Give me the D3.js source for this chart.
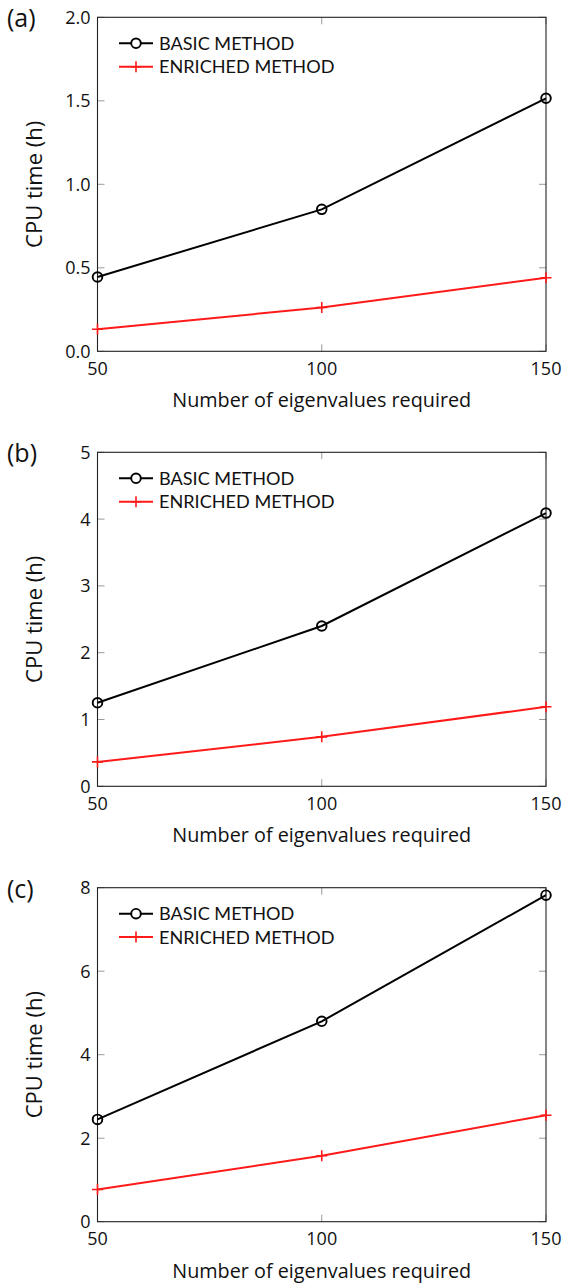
<!DOCTYPE html>
<html>
<head>
<meta charset="utf-8">
<script src="https://cdn.jsdelivr.net/npm/d3@7"></script>
<style>
  body { margin: 0; background: #fff; }
  text { font-family: "Open Sans", sans-serif; fill: #111; }
  text.legend { font-family: Lato, "Open Sans", sans-serif; }
</style>
</head>
<body>
<div class="chart"></div>
<script>
// Data
var eigenCounts = [50, 100, 150];
var panelNames = ["(a)", "(b)", "(c)"];
var seriesNames = ["BASIC METHOD", "ENRICHED METHOD"];

var basicA = [0.445, 0.85, 1.515];
var enrichedA = [0.132, 0.262, 0.44];
var basicB = [1.25, 2.40, 4.09];
var enrichedB = [0.365, 0.74, 1.19];
var basicC = [2.45, 4.80, 7.82];
var enrichedC = [0.77, 1.58, 2.55];

var yTicksA = [0, 0.5, 1.0, 1.5, 2.0];
var yTicksB = [0, 1, 2, 3, 4, 5];
var yTicksC = [0, 2, 4, 6, 8];

var svgWidth = 562;
var svgHeight = 1284;

var margin = { left: 97.5, right: 16 };
var plotWidth = svgWidth - margin.left - margin.right;
var plotHeight = 334;
var panelTops = [17.3, 452.3, 887.7];

var panels = [
  { name: panelNames[0], basic: basicA, enriched: enrichedA, ticks: yTicksA, fmt: d3.format(".1f") },
  { name: panelNames[1], basic: basicB, enriched: enrichedB, ticks: yTicksB, fmt: d3.format("d") },
  { name: panelNames[2], basic: basicC, enriched: enrichedC, ticks: yTicksC, fmt: d3.format("d") }
];

var svg = d3.select(".chart")
  .append("svg")
  .attr("width", svgWidth)
  .attr("height", svgHeight);

var xScale = d3.scaleLinear()
  .domain(d3.extent(eigenCounts))
  .range([0, plotWidth]);

var tickLen = 7;
var tickColor = "#9a9a9a";
var red = "#ff1a1a";

panels.forEach(function(p, i) {
  var g = svg.append("g")
    .attr("transform", `translate(${margin.left}, ${panelTops[i]})`);

  var yScale = d3.scaleLinear()
    .domain([0, d3.max(p.ticks)])
    .range([plotHeight, 0]);

  // inward tick marks on all four sides
  var ticksG = g.append("g").attr("stroke", tickColor).attr("stroke-width", 1);
  p.ticks.forEach(function(t) {
    var y = yScale(t);
    ticksG.append("line").attr("x1", 0).attr("x2", tickLen).attr("y1", y).attr("y2", y);
    ticksG.append("line").attr("x1", plotWidth - tickLen).attr("x2", plotWidth).attr("y1", y).attr("y2", y);
  });
  eigenCounts.forEach(function(t) {
    var x = xScale(t);
    ticksG.append("line").attr("x1", x).attr("x2", x).attr("y1", plotHeight).attr("y2", plotHeight - tickLen);
    ticksG.append("line").attr("x1", x).attr("x2", x).attr("y1", 0).attr("y2", tickLen);
  });

  // frame
  g.append("rect")
    .attr("width", plotWidth)
    .attr("height", plotHeight)
    .attr("fill", "none")
    .attr("stroke", "#222")
    .attr("stroke-width", 1.1);

  // tick labels
  g.selectAll(".ylab")
    .data(p.ticks)
    .enter()
    .append("text")
    .attr("x", -7)
    .attr("y", d => yScale(d))
    .attr("dy", "0.36em")
    .attr("text-anchor", "end")
    .style("font-size", "18px")
    .text(p.fmt);

  g.selectAll(".xlab")
    .data(eigenCounts)
    .enter()
    .append("text")
    .attr("x", d => xScale(d))
    .attr("y", plotHeight + 23.5)
    .attr("text-anchor", "middle")
    .style("font-size", "18px")
    .text(d => d);

  // axis titles
  g.append("text")
    .attr("x", plotWidth / 2)
    .attr("y", plotHeight + 56)
    .attr("text-anchor", "middle")
    .style("font-size", "19.8px")
    .text("Number of eigenvalues required");

  g.append("text")
    .attr("transform", `translate(${42 - margin.left}, ${plotHeight / 2}) rotate(-90)`)
    .attr("text-anchor", "middle")
    .style("font-size", "22px")
    .text("CPU time (h)");

  svg.append("text")
    .attr("x", 7)
    .attr("y", panelTops[i] + 10)
    .style("font-size", "25px")
    .text(p.name);

  // lines
  var line = d3.line()
    .x((d, j) => xScale(eigenCounts[j]))
    .y(d => yScale(d));

  g.append("path")
    .datum(p.enriched)
    .attr("d", line)
    .attr("fill", "none")
    .attr("stroke", red)
    .attr("stroke-width", 2);

  g.selectAll(".plus")
    .data(p.enriched)
    .enter()
    .append("path")
    .attr("d", (d, j) => {
      var x = xScale(eigenCounts[j]), y = yScale(d);
      return `M${x - 5.5},${y}H${x + 5.5}M${x},${y - 5.5}V${y + 5.5}`;
    })
    .attr("stroke", red)
    .attr("stroke-width", 1.6);

  g.append("path")
    .datum(p.basic)
    .attr("d", line)
    .attr("fill", "none")
    .attr("stroke", "#000")
    .attr("stroke-width", 2);

  g.selectAll(".circ")
    .data(p.basic)
    .enter()
    .append("circle")
    .attr("cx", (d, j) => xScale(eigenCounts[j]))
    .attr("cy", d => yScale(d))
    .attr("r", 4.8)
    .attr("fill", "none")
    .attr("stroke", "#000")
    .attr("stroke-width", 1.9);

  // legend
  var leg = g.append("g").attr("transform", "translate(21.5, 26)");
  [0, 1].forEach(function(k) {
    var row = leg.append("g").attr("transform", `translate(0, ${k * 23.4})`);
    var col = k === 0 ? "#000" : red;
    row.append("line")
      .attr("x1", 0).attr("x2", 34)
      .attr("stroke", col).attr("stroke-width", 2);
    if (k === 0) {
      row.append("circle").attr("cx", 17).attr("r", 4.8)
        .attr("fill", "#fff").attr("stroke", col).attr("stroke-width", 1.9);
    } else {
      row.append("path").attr("d", "M12,0H22M17,-5.5V5.5")
        .attr("stroke", col).attr("stroke-width", 1.6);
    }
    row.append("text")
      .attr("class", "legend")
      .attr("x", 40)
      .attr("dy", "0.36em")
      .style("font-size", "18.1px")
      .text(seriesNames[k]);
  });
});
</script>
</body>
</html>
